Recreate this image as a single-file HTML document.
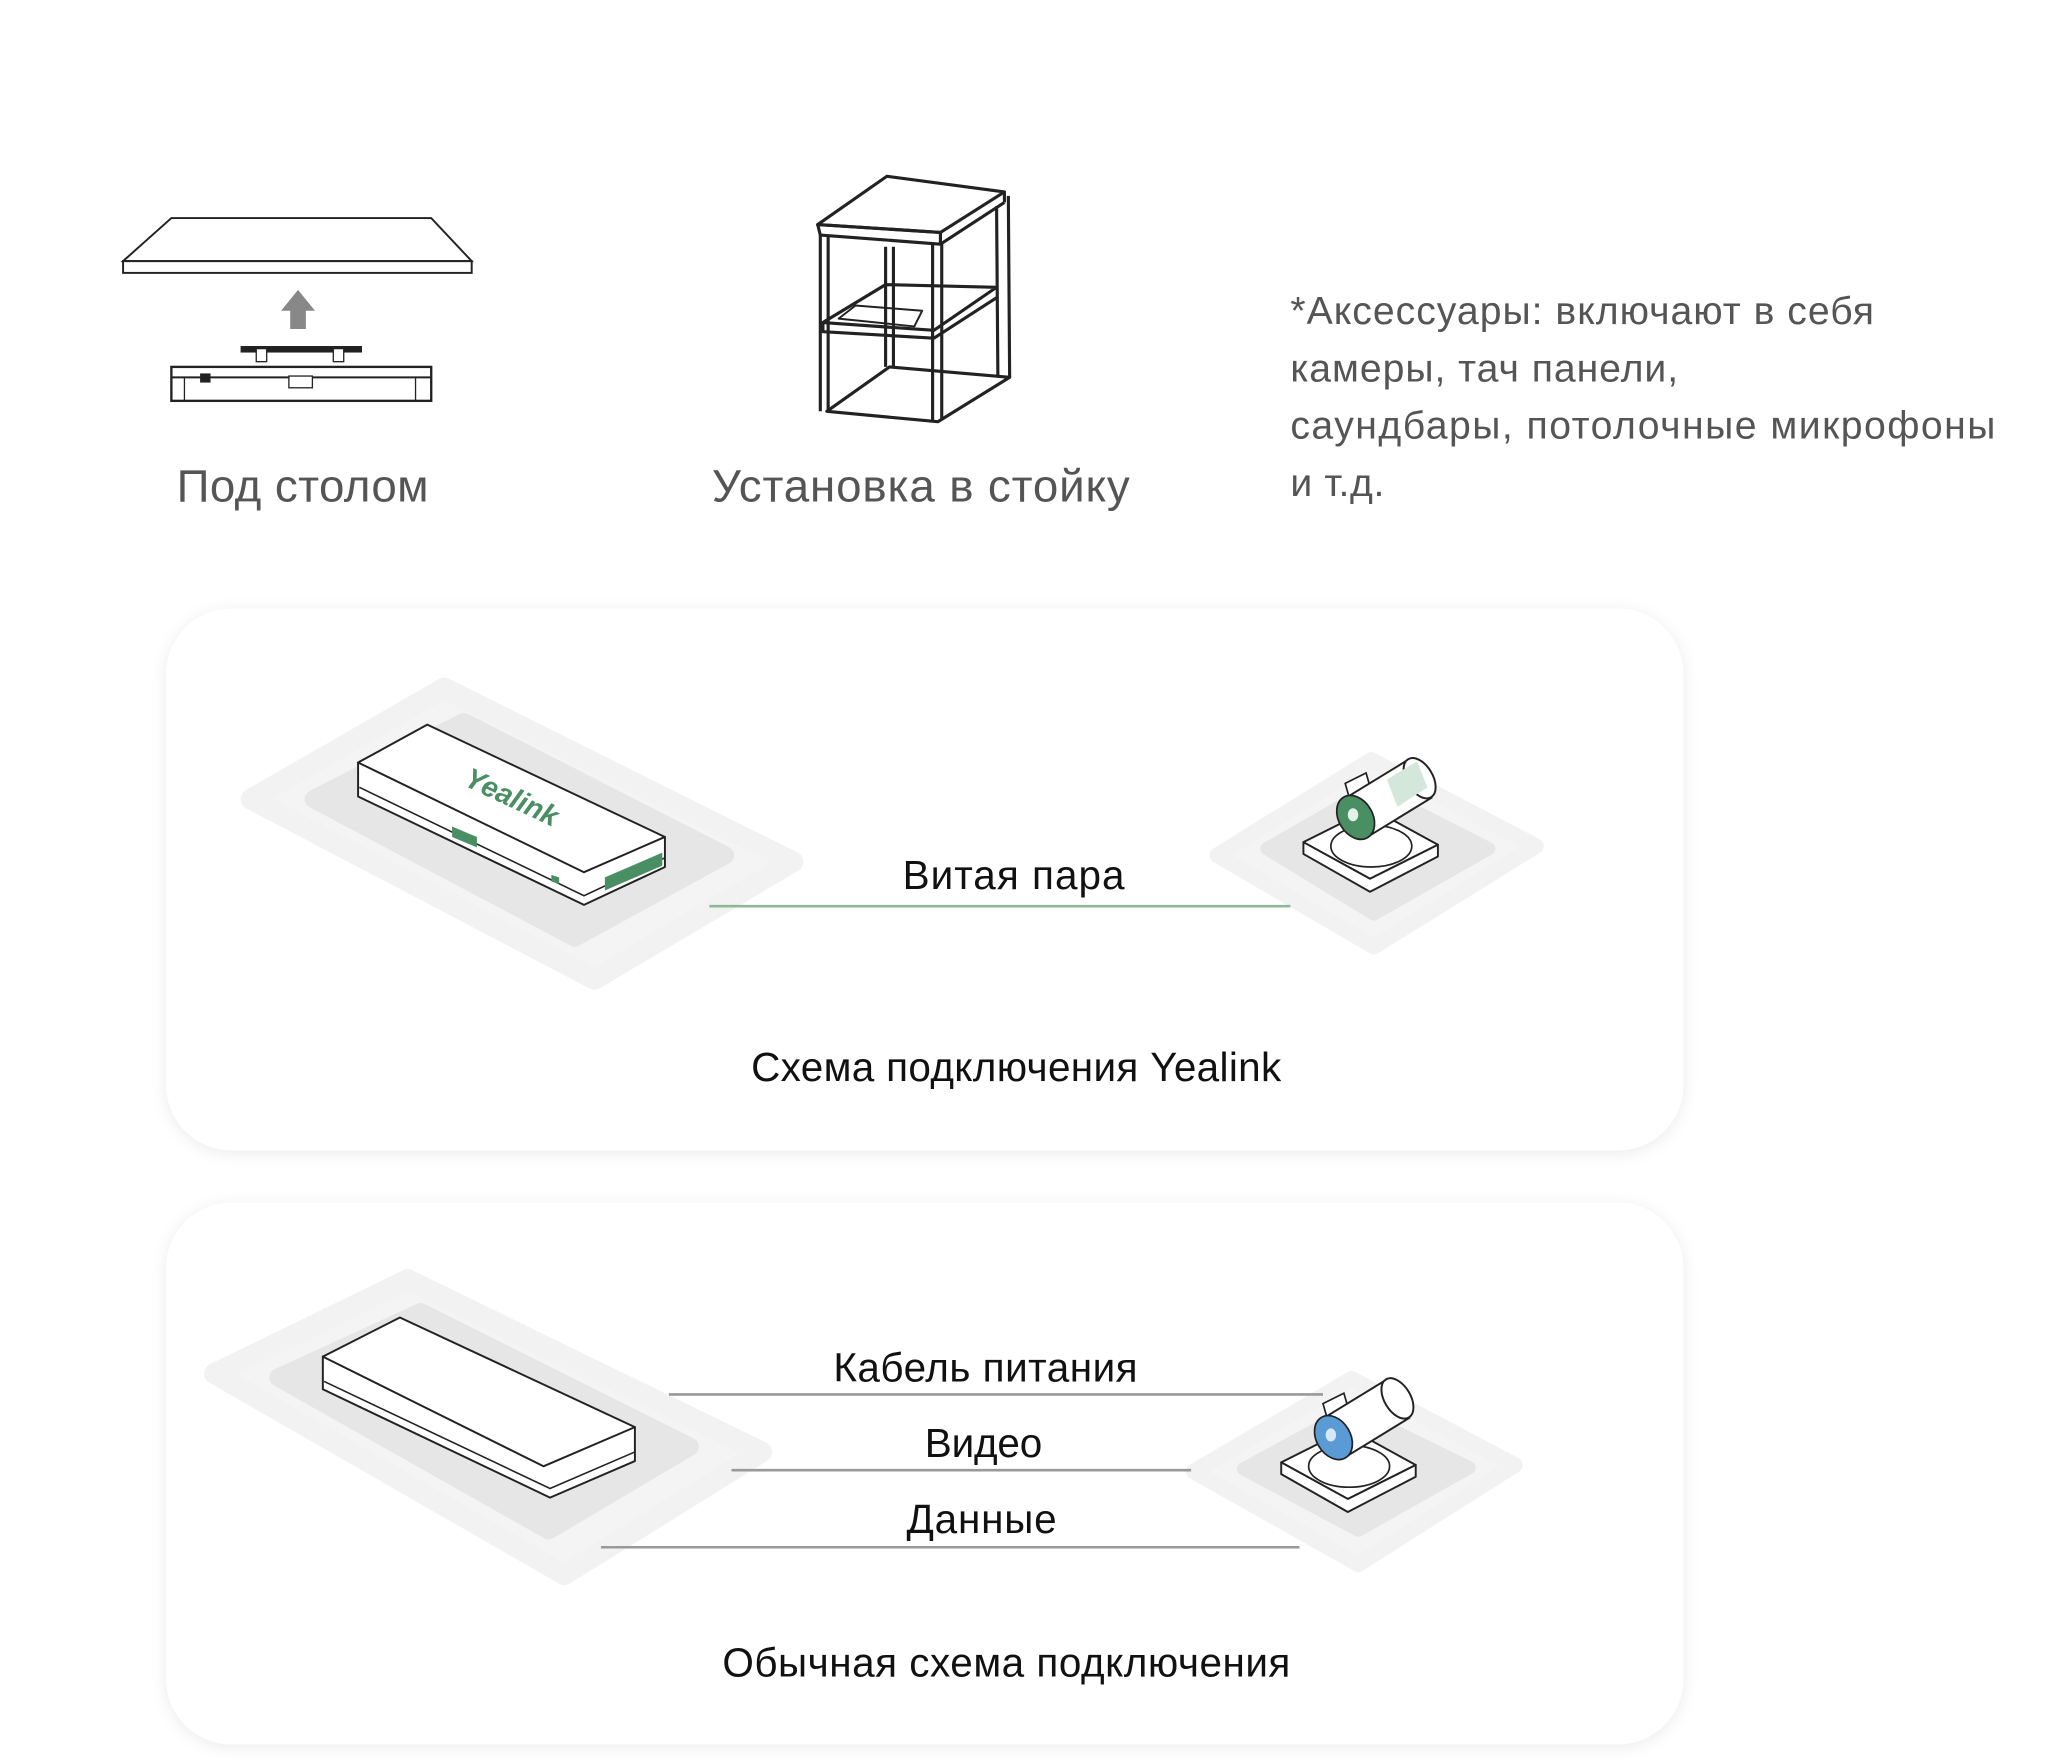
<!DOCTYPE html>
<html><head><meta charset="utf-8"><style>
html,body{margin:0;padding:0;background:#fff;}
svg{display:block;}
text{font-family:"Liberation Sans","DejaVu Sans",sans-serif;}
</style></head><body>
<svg width="2048" height="1764" viewBox="0 0 1568 1351" xmlns="http://www.w3.org/2000/svg">
<defs>
<filter id="sh" x="-5%" y="-10%" width="110%" height="120%"><feDropShadow dx="0" dy="2" stdDeviation="6" flood-color="#000" flood-opacity="0.08"/></filter>
<g id="cam">
  <polygon points="998,645 1050,619 1101,647 1049,673" fill="#fff" stroke="#222" stroke-width="1.5" stroke-linejoin="round"/>
  <polygon points="998,645 1049,673 1101,647 1101,656 1049,683 998,654" fill="#fff" stroke="#222" stroke-width="1.5" stroke-linejoin="round"/>
  <ellipse cx="1050" cy="648" rx="31" ry="16" fill="#fff" stroke="#222" stroke-width="1.3"/>
  <polygon points="1030,600 1046,592 1050,606 1034,614" fill="#fff" stroke="#222" stroke-width="1.3"/>
  <polygon points="1029,612 1078,582 1096,611 1047,641" fill="#fff" stroke="#222" stroke-width="1.5"/>
  <ellipse cx="1087" cy="596" rx="10" ry="17" transform="rotate(-31 1087 596)" fill="#fff" stroke="#222" stroke-width="1.5"/>
</g>
</defs>
<rect width="1568" height="1351" fill="#fff"/>

<!-- Under table -->
<polygon points="94,200 131,167 330,167 361,200" fill="#fff" stroke="#222" stroke-width="1.5"/>
<rect x="94" y="200" width="267" height="9" fill="#fff" stroke="#222" stroke-width="1.5"/>
<polygon points="222,252 222,238 215,238 228,222 241,238 234,238 234,252" fill="#888"/>
<rect x="184" y="265" width="93" height="5" fill="#222"/>
<rect x="196" y="267" width="8" height="10" fill="#fff" stroke="#222"/>
<rect x="255" y="267" width="8" height="10" fill="#fff" stroke="#222"/>
<rect x="131" y="281" width="199" height="26" fill="#fff" stroke="#222" stroke-width="1.8"/>
<line x1="131" y1="289" x2="330" y2="289" stroke="#222" stroke-width="1.5"/>
<line x1="318" y1="289" x2="318" y2="307" stroke="#222" stroke-width="1"/>
<line x1="141" y1="289" x2="141" y2="307" stroke="#222" stroke-width="1"/>
<rect x="221" y="288" width="18" height="9" fill="#fff" stroke="#222"/>
<rect x="153" y="286" width="8" height="7" fill="#222"/>
<text x="135" y="384" font-size="35" fill="#555" textLength="193">Под столом</text>

<!-- Rack -->
<g fill="none" stroke="#222" stroke-width="2.4" stroke-linejoin="round">
<polygon points="626,172 679,135 769,147 720,178" fill="#fff"/>
<polygon points="626,172 720,178 720,187 628,180"/>
<line x1="720" y1="187" x2="769" y2="155"/>
<line x1="769" y1="147" x2="769" y2="155"/>
<line x1="628" y1="180" x2="628" y2="315"/>
<line x1="634" y1="181" x2="634" y2="315"/>
<line x1="714" y1="187" x2="714" y2="322"/>
<line x1="721" y1="187" x2="721" y2="322"/>
<line x1="763" y1="158" x2="764" y2="289"/>
<line x1="772" y1="150" x2="773" y2="289"/>
<line x1="678" y1="189" x2="678" y2="281"/>
<line x1="684" y1="189" x2="684" y2="281"/>
<polygon points="630,247 678,218 763,220 715,253"/>
<polyline points="630,247 630,254 715,259 763,228"/>
<polygon points="642,244 655,234 706,238 700,250" stroke-width="1.5"/>
<polygon points="633,315 681,281 773,289 718,323"/>
</g>
<text x="545" y="384" font-size="35" fill="#555" textLength="320">Установка в стойку</text>

<!-- Accessories -->
<g font-size="30" fill="#555">
<text x="988" y="248" textLength="447">*Аксессуары: включают в себя</text>
<text x="988" y="292" textLength="297">камеры, тач панели,</text>
<text x="988" y="336" textLength="540">саундбары, потолочные микрофоны</text>
<text x="988" y="380" textLength="72">и т.д.</text>
</g>

<!-- Panel 1 -->
<rect x="127" y="466" width="1162" height="415" rx="50" fill="#fff" filter="url(#sh)"/>
<polygon points="192,612 340,527 607,660 455,750" fill="#f4f4f4" stroke="#f2f2f2" stroke-width="16" stroke-linejoin="round"/>
<polygon points="240,612 355,553 555,655 440,718" fill="#e6e6e6" stroke="#e6e6e6" stroke-width="14" stroke-linejoin="round"/>
<!-- Yealink device -->
<polygon points="274,584 274,610 447,693 509,664 509,641" fill="#fff" stroke="#222" stroke-width="1.5" stroke-linejoin="round"/>
<polyline points="275,603 447,686 509,657" fill="none" stroke="#222" stroke-width="1.2"/>
<polygon points="274,584 327,555 509,641 447,668" fill="#fff" stroke="#222" stroke-width="1.5" stroke-linejoin="round"/>
<text x="392" y="618" font-size="22" font-weight="bold" font-style="italic" fill="#4a8f63" transform="rotate(25 392 610)" text-anchor="middle">Yealink</text>
<polygon points="346,633 365,641 365,649 346,641" fill="#4a8f63"/>
<polygon points="463,672 507,653 507,663 463,682" fill="#4a8f63"/>
<polygon points="422,670 428,672 428,677 422,675" fill="#4a8f63"/>
<!-- camera pad 1 -->
<polygon points="932,655 1050,582 1176,648 1052,725" fill="#f4f4f4" stroke="#f2f2f2" stroke-width="12" stroke-linejoin="round"/>
<polygon points="970,650 1050,604 1140,650 1052,700" fill="#e6e6e6" stroke="#e6e6e6" stroke-width="10" stroke-linejoin="round"/>
<use href="#cam"/>
<polygon points="1062,597 1085,583 1093,603 1070,618" fill="#d3e7da"/>
<ellipse cx="1038" cy="626" rx="13" ry="18" transform="rotate(-31 1038 626)" fill="#4a8f63" stroke="#222" stroke-width="1.3"/>
<ellipse cx="1036" cy="624" rx="4" ry="5" fill="#e3f1e7"/>
<line x1="543" y1="694" x2="988" y2="694" stroke="#8db89b" stroke-width="2"/>
<text x="691" y="681" font-size="31" fill="#111" textLength="170">Витая пара</text>
<text x="575" y="828" font-size="31" fill="#111" textLength="406">Схема подключения Yealink</text>

<!-- Panel 2 -->
<rect x="127" y="921" width="1162" height="415" rx="50" fill="#fff" filter="url(#sh)"/>
<polygon points="164,1052 312,980 583,1112 432,1206" fill="#f4f4f4" stroke="#f2f2f2" stroke-width="16" stroke-linejoin="round"/>
<polygon points="213,1055 322,1005 528,1108 420,1172" fill="#e6e6e6" stroke="#e6e6e6" stroke-width="14" stroke-linejoin="round"/>
<polygon points="247,1039 247,1064 421,1147 486,1119 486,1093" fill="#fff" stroke="#222" stroke-width="1.5" stroke-linejoin="round"/>
<polyline points="248,1058 421,1140 486,1112" fill="none" stroke="#222" stroke-width="1.2"/>
<polygon points="247,1039 306,1009 486,1093 416,1123" fill="#fff" stroke="#222" stroke-width="1.5" stroke-linejoin="round"/>
<!-- camera pad 2 -->
<polygon points="914,1127 1035,1056 1160,1122 1040,1198" fill="#f4f4f4" stroke="#f2f2f2" stroke-width="12" stroke-linejoin="round"/>
<polygon points="952,1125 1035,1080 1125,1124 1040,1172" fill="#e6e6e6" stroke="#e6e6e6" stroke-width="10" stroke-linejoin="round"/>
<g transform="translate(-17,475)">
<use href="#cam"/>
<ellipse cx="1038" cy="626" rx="13" ry="18" transform="rotate(-31 1038 626)" fill="#5b9bd5" stroke="#222" stroke-width="1.3"/>
<ellipse cx="1036" cy="624" rx="4" ry="5" fill="#d6e8f7"/>
</g>
<g stroke="#999" stroke-width="2">
<line x1="512" y1="1068" x2="1013" y2="1068"/>
<line x1="560" y1="1126" x2="912" y2="1126"/>
<line x1="460" y1="1185" x2="995" y2="1185"/>
</g>
<g font-size="31" fill="#111">
<text x="638" y="1058" textLength="233">Кабель питания</text>
<text x="708" y="1116" textLength="90">Видео</text>
<text x="694" y="1174" textLength="115">Данные</text>
<text x="553" y="1284" textLength="435">Обычная схема подключения</text>
</g>
</svg>
</body></html>
